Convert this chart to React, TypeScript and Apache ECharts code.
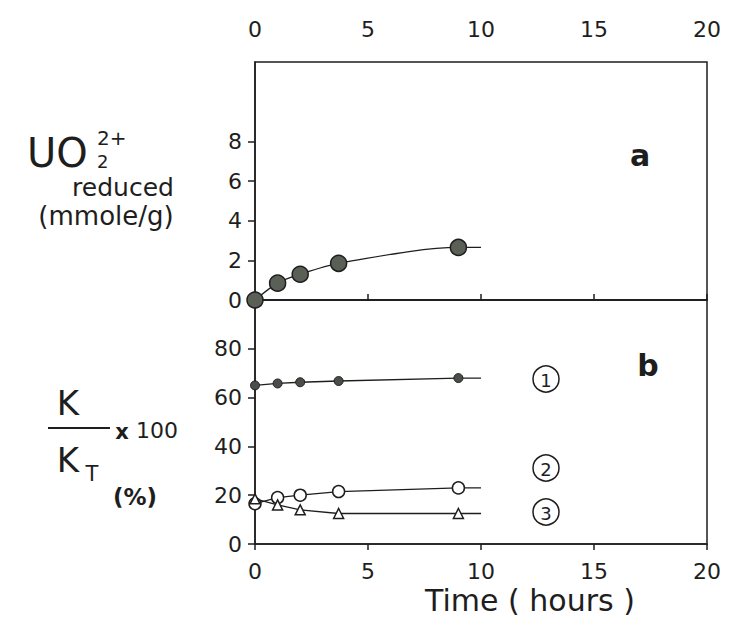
import React, { useEffect, useRef } from "react";
import * as echarts from "echarts";

// ---- data ----
const timeHours = [0, 1, 2, 3.7, 9];
const tailHour = 10;
const uo2Reduced = [0, 0.85, 1.3, 1.85, 2.65];
const kRatio1 = [65, 65.8, 66.3, 66.8, 68];
const kRatio2 = [16.5, 19, 20, 21.5, 23];
const kRatio3 = [18.5, 16, 14, 12.5, 12.5];
const xTicks = [0, 5, 10, 15, 20];
const yTicksA = [0, 2, 4, 6, 8];
const yTicksB = [0, 20, 40, 60, 80];

const FONT = "DejaVu Sans";
const INK = "#1e1e1e";
const OFF = 8; // body margin

function pts(xs: number[], ys: number[]) {
  const out: any[] = xs.map((x, i) => [x, ys[i]]);
  out.push({ value: [tailHour, ys[ys.length - 1]], symbol: "none" });
  return out;
}

function txt(text: string, x: number, y: number, fontSize: number, align = "center", weight = "normal") {
  return {
    type: "text",
    style: {
      text,
      x: x - OFF,
      y: y - OFF,
      fontFamily: FONT,
      fontSize,
      fontWeight: weight,
      fill: INK,
      textAlign: align,
      textVerticalAlign: "middle",
    },
  };
}

function ring(cx: number, cy: number, n: string) {
  return [
    { type: "circle", shape: { cx: cx - OFF, cy: cy - OFF, r: 13 }, style: { fill: "none", stroke: INK, lineWidth: 1.5 } },
    txt(n, cx, cy + 1, 18),
  ];
}

export default function App() {
  const ref = useRef<HTMLDivElement>(null);
  useEffect(() => {
    if (!ref.current) return;
    const chart = echarts.init(ref.current, undefined, { renderer: "svg" });
    const gridL = 255 - OFF;
    const gridR = 32;
    const label = { fontFamily: FONT, fontSize: 22, color: INK };
    const xAxisBase = {
      type: "value",
      min: 0,
      max: 20,
      interval: 5,
      splitLine: { show: false },
      axisLine: { show: true, lineStyle: { color: INK, width: 1.5 } },
      axisTick: { show: true, inside: false, length: 6, lineStyle: { color: INK, width: 1.5 } },
    };
    const yAxisBase = {
      type: "value",
      splitLine: { show: false },
      axisLine: { show: true, lineStyle: { color: INK, width: 1.5 } },
    };
    const lineStyle = { color: INK, width: 1.3 };
    chart.setOption({
      animation: false,
      backgroundColor: "#ffffff",
      grid: [
        { left: gridL, right: gridR, top: 62 - OFF, height: 238, show: true, borderColor: INK, borderWidth: 1.5, backgroundColor: "transparent" },
        { left: gridL, right: gridR, top: 300 - OFF, height: 244, show: true, borderColor: INK, borderWidth: 1.5, backgroundColor: "transparent" },
      ],
      xAxis: [
        { ...xAxisBase, gridIndex: 0, position: "top", axisLabel: { ...label, margin: 22, customValues: xTicks } },
        { ...xAxisBase, gridIndex: 1, position: "bottom", axisLabel: { ...label, margin: 16, customValues: xTicks } },
      ],
      yAxis: [
        {
          ...yAxisBase,
          gridIndex: 0,
          min: 0,
          max: 12,
          interval: 2,
          axisTick: { show: true, length: 7, customValues: yTicksA, lineStyle: { color: INK, width: 1.5 } },
          axisLabel: { ...label, margin: 13, customValues: yTicksA, formatter: (v: number) => (v <= 8 ? String(v) : "") },
        },
        {
          ...yAxisBase,
          gridIndex: 1,
          min: 0,
          max: 100,
          interval: 20,
          axisTick: { show: true, length: 7, customValues: yTicksB, lineStyle: { color: INK, width: 1.5 } },
          axisLabel: { ...label, margin: 13, customValues: yTicksB, formatter: (v: number) => (v <= 80 ? String(v) : "") },
        },
      ],
      series: [
        {
          type: "line",
          xAxisIndex: 0,
          yAxisIndex: 0,
          data: pts(timeHours, uo2Reduced),
          smooth: 0.3,
          symbol: "circle",
          symbolSize: 16,
          lineStyle,
          itemStyle: { color: "#5a6056", borderColor: INK, borderWidth: 1.5 },
          z: 3,
        },
        {
          type: "line",
          xAxisIndex: 1,
          yAxisIndex: 1,
          data: pts(timeHours, kRatio1),
          symbol: "circle",
          symbolSize: 9,
          lineStyle,
          itemStyle: { color: "#4a4e48", borderColor: INK, borderWidth: 1 },
        },
        {
          type: "line",
          xAxisIndex: 1,
          yAxisIndex: 1,
          data: pts(timeHours, kRatio2),
          symbol: "circle",
          symbolSize: 12,
          lineStyle,
          itemStyle: { color: "#ffffff", borderColor: INK, borderWidth: 1.5 },
        },
        {
          type: "line",
          xAxisIndex: 1,
          yAxisIndex: 1,
          data: pts(timeHours, kRatio3),
          symbol: "triangle",
          symbolSize: 10,
          lineStyle,
          itemStyle: { color: "#ffffff", borderColor: INK, borderWidth: 1.5 },
        },
      ],
      graphic: [
        txt("a", 640, 155, 30, "center", "bold"),
        txt("b", 648, 365, 30, "center", "bold"),
        ...ring(546, 379, "1"),
        ...ring(546, 468, "2"),
        ...ring(546, 512, "3"),
        // top y title
        txt("UO", 27, 153, 40, "left"),
        txt("2+", 97, 138, 20, "left"),
        txt("2", 97, 161, 18, "left"),
        txt("reduced", 123, 187, 25),
        txt("(mmole/g)", 106, 216, 26),
        // bottom y title
        txt("K", 68, 403, 34),
        { type: "line", shape: { x1: 48 - OFF, y1: 428 - OFF, x2: 110 - OFF, y2: 428 - OFF }, style: { stroke: INK, lineWidth: 1.8 } },
        txt("x", 122, 432, 21, "center", "bold"),
        txt("100", 136, 430, 22, "left"),
        txt("K", 68, 460, 34),
        txt("T", 92, 474, 21),
        txt("(%)", 135, 497, 23, "center", "bold"),
        // x title
        txt("Time ( hours )", 530, 600, 30),
      ],
    });
    return () => chart.dispose();
  }, []);
  return <div ref={ref} style={{ width: 731, height: 624 }} />;
}
